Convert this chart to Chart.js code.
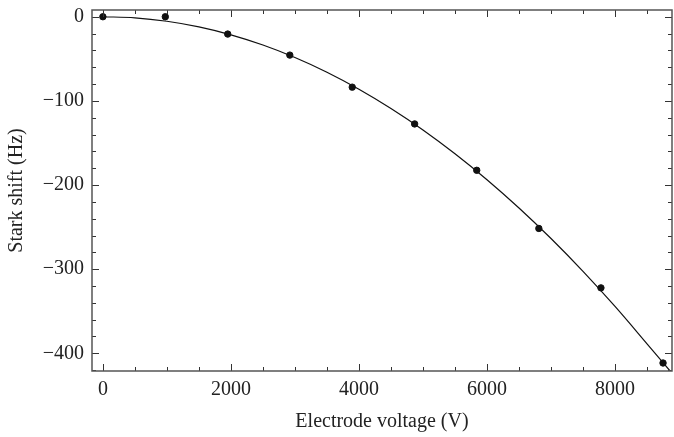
<!DOCTYPE html>
<html lang="en">
<head>
    <meta charset="UTF-8">
    <title>Stark shift vs electrode voltage</title>
    <script src="https://cdnjs.cloudflare.com/ajax/libs/chart.js/4.4.1/chart.umd.min.js"></script>
    <style>
        body {
            margin: 0;
            background: #fff;
            overflow: hidden;
        }
        canvas {
            display: block;
        }
    </style>
</head>
<body>
    <canvas id="starkChart" width="674" height="437"></canvas>

    <script>
        // measured points
        const voltages = [0, 975, 1950, 2920, 3895, 4870, 5840, 6810, 7780, 8750];
        const shifts = [0, 0, -20.6, -45.6, -83.7, -127.4, -182.5, -251.6, -322.2, -411.5];

        // fitted curve
        const fitVoltages = [0, 500, 1000, 1500, 2000, 2500, 3000, 3500, 4000, 4500, 5000, 5500, 6000, 6500, 7000, 7500, 8000, 8500, 8860];
        const fitShifts = [0, -1.3, -5.4, -12.1, -21.5, -33.6, -48.4, -65.9, -86.1, -109, -134.5, -162.8, -193.7, -227.3, -263.6, -302.6, -344.3, -388.7, -421];

        // tick positions (minor + major) and labelled ones
        const xTicks = [0, 500, 1000, 1500, 2000, 2500, 3000, 3500, 4000, 4500, 5000, 5500, 6000, 6500, 7000, 7500, 8000, 8500];
        const yTicks = [0, -20, -40, -60, -80, -100, -120, -140, -160, -180, -200, -220, -240, -260, -280, -300, -320, -340, -360, -380, -400, -420];
        const xLabels = [0, 2000, 4000, 6000, 8000];
        const yLabels = [0, -100, -200, -300, -400];

        const serif = "'Liberation Serif', 'DejaVu Serif', serif";

        // frame + inward ticks on all four sides
        const frameTicks = {
            id: 'frameTicks',
            afterDraw(chart) {
                const { ctx, chartArea: a } = chart;
                const xs = chart.scales.x, ys = chart.scales.y;
                ctx.save();
                ctx.strokeStyle = '#333';
                ctx.lineWidth = 1;
                xs.ticks.forEach(t => {
                    const px = Math.round(xs.getPixelForValue(t.value)) + 0.5;
                    const len = xLabels.includes(t.value) ? 7 : 4;
                    ctx.beginPath();
                    ctx.moveTo(px, a.bottom); ctx.lineTo(px, a.bottom - len);
                    ctx.moveTo(px, a.top); ctx.lineTo(px, a.top + len);
                    ctx.stroke();
                });
                ys.ticks.forEach(t => {
                    const py = Math.round(ys.getPixelForValue(t.value)) + 0.5;
                    const len = yLabels.includes(t.value) ? 7 : 4;
                    ctx.beginPath();
                    ctx.moveTo(a.left, py); ctx.lineTo(a.left + len, py);
                    ctx.moveTo(a.right, py); ctx.lineTo(a.right - len, py);
                    ctx.stroke();
                });
                ctx.strokeStyle = '#555';
                ctx.lineWidth = 1.5;
                ctx.strokeRect(a.left, a.top, a.right - a.left, a.bottom - a.top);
                ctx.restore();
            }
        };

        const ctx = document.getElementById('starkChart').getContext('2d');
        new Chart(ctx, {
            type: 'scatter',
            data: {
                datasets: [
                    {
                        label: 'Fit',
                        data: fitVoltages.map((v, i) => ({ x: v, y: fitShifts[i] })),
                        showLine: true,
                        borderColor: '#111',
                        borderWidth: 1.2,
                        pointRadius: 0,
                        cubicInterpolationMode: 'monotone'
                    },
                    {
                        label: 'Data',
                        data: voltages.map((v, i) => ({ x: v, y: shifts[i] })),
                        backgroundColor: '#111',
                        borderColor: '#111',
                        pointRadius: 3.2
                    }
                ]
            },
            options: {
                responsive: false,
                animation: false,
                layout: { autoPadding: false, padding: { top: 10, right: 2, left: 0, bottom: 0 } },
                plugins: {
                    legend: { display: false },
                    tooltip: { enabled: false }
                },
                scales: {
                    x: {
                        type: 'linear',
                        min: -170,
                        max: 8890,
                        afterBuildTicks: s => { s.ticks = xTicks.map(v => ({ value: v })); },
                        afterFit: s => { s.height = 66; s.paddingLeft = 0; s.paddingRight = 0; },
                        grid: { display: false, drawTicks: false },
                        border: { display: false },
                        ticks: {
                            autoSkip: false,
                            maxRotation: 0,
                            padding: 7,
                            color: '#222',
                            font: { family: serif, size: 20 },
                            callback: v => xLabels.includes(v) ? String(v) : ''
                        },
                        title: {
                            display: true,
                            text: 'Electrode voltage (V)',
                            color: '#222',
                            font: { family: serif, size: 20 },
                            padding: { top: 0, bottom: 3 }
                        }
                    },
                    y: {
                        type: 'linear',
                        min: -421,
                        max: 8,
                        afterBuildTicks: s => { s.ticks = yTicks.map(v => ({ value: v })); },
                        afterFit: s => { s.width = 92; s.paddingTop = 0; s.paddingBottom = 0; },
                        grid: { display: false, drawTicks: false },
                        border: { display: false },
                        ticks: {
                            autoSkip: false,
                            padding: 8,
                            color: '#222',
                            font: { family: serif, size: 20 },
                            callback: v => yLabels.includes(v) ? (v < 0 ? '\u2212' + Math.abs(v) : String(v)) : ''
                        },
                        title: {
                            display: true,
                            text: 'Stark shift (Hz)',
                            color: '#222',
                            font: { family: serif, size: 20 },
                            padding: { top: 5, bottom: 0 }
                        }
                    }
                }
            },
            plugins: [frameTicks]
        });
    </script>
</body>
</html>
